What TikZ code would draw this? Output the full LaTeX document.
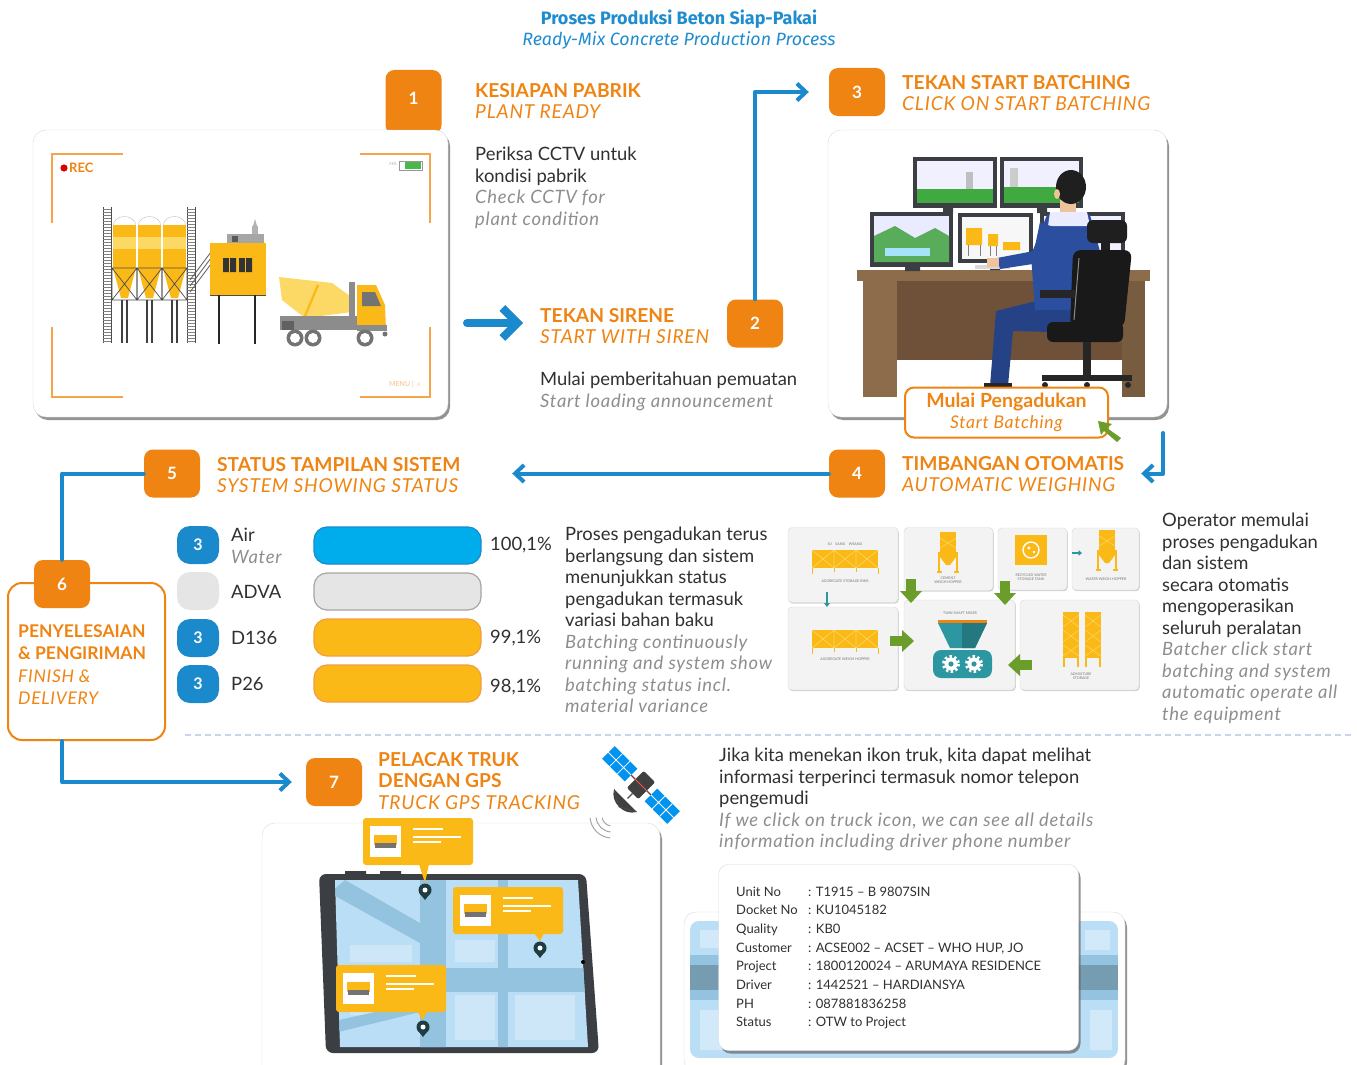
\documentclass[tikz,border=0pt]{standalone}
\usepackage{fontspec}
\setmainfont{Lato}
\newfontfamily\titlefont{Fira Sans}
\usetikzlibrary{arrows.meta,shadows,calc}
\definecolor{ora}{HTML}{EF8412}
\definecolor{orl}{HTML}{F6A54A}
\definecolor{blu}{HTML}{1B8ACD}
\definecolor{ttl}{HTML}{1F8CCF}
\definecolor{txt}{HTML}{303030}
\definecolor{gry}{HTML}{8E8E8E}
\definecolor{yel}{HTML}{FBB917}
\definecolor{yll}{HTML}{FCD864}
\definecolor{sky}{HTML}{00ADEC}
\definecolor{grn}{HTML}{6B9D2B}
\definecolor{tea}{HTML}{2D97A1}
\definecolor{pan}{HTML}{F3F3F3}
\definecolor{desk}{HTML}{6E5138}
\definecolor{deskl}{HTML}{8D6C4B}
\definecolor{shirt}{HTML}{2C4E9E}
\definecolor{skin}{HTML}{EFC39B}
\definecolor{scr}{HTML}{3B3F43}
\definecolor{map}{HTML}{B9DEF5}
\definecolor{road}{HTML}{93C3DF}
\definecolor{pinc}{HTML}{1E3C42}
\definecolor{sepc}{HTML}{C7D6EA}
\newcommand\ist{\itshape\addfontfeatures{LetterSpace=4}}
\newcommand\en[1]{\textcolor{gry}{\ist #1}}

\begin{document}
\begin{tikzpicture}[x=1pt,y=-1pt,
  badge/.style={fill=ora, rounded corners=9pt, minimum width=56pt, minimum height=48pt, inner sep=0pt, text=white, font=\fontsize{17}{17}\selectfont\bfseries},
  sbadge/.style={fill=blu, rounded corners=13pt, minimum width=42pt, minimum height=38pt, inner sep=0pt, text=white, font=\fontsize{16}{16}\selectfont\bfseries},
  card/.style={draw=black!15, fill=white, rounded corners=13pt, drop shadow={shadow xshift=2pt, shadow yshift=-3pt, opacity=.7, fill=black!60}},
  panel/.style={draw=black!15, fill=pan, rounded corners=4pt, drop shadow={shadow xshift=.8pt, shadow yshift=-1.2pt, opacity=.35, fill=black!50}},
  hd/.style={anchor=north west, inner sep=0pt, align=left, text=ora, font=\fontsize{19.2}{21.5}\selectfont},
  body/.style={anchor=north west, inner sep=0pt, align=left, text=txt, font=\fontsize{18.4}{21.5}\selectfont},
  lbl/.style={anchor=west, inner sep=0pt, text=txt, font=\fontsize{18.4}{21.5}\selectfont},
  bar/.style={rounded corners=13pt, line width=1.2pt},
  flow/.style={draw=blu, line width=4pt, line cap=round, line join=round, -{Straight Barb[length=9pt,width=17pt]}},
  tiny/.style={inner sep=0pt, text=black!55, font=\fontsize{3.6}{4.2}\selectfont, align=center},
  info/.style={anchor=base west, inner sep=0pt, text=txt, font=\fontsize{13}{13}\selectfont},
  pics/hopper/.style={code={
    \fill[yel] (-8,-20) rectangle (8,5);
    \fill[yel] (-8,5) -- (8,5) -- (2,13) -- (-2,13) -- cycle;
    \draw[yel, line width=1.2pt] (-9,0) -- (-9,20) (9,0) -- (9,20) (-11,20) -- (-6,20) (11,20) -- (6,20);
    \draw[yll, line width=.5pt] (-8,-14) -- (8,-4) (8,-14) -- (-8,-4);}},
  pics/bins/.style={code={
    \fill[yel] (-33,0) rectangle (33,18);
    \draw[yll, line width=.6pt] (-11,0) -- (-11,18) (11,0) -- (11,18) (-33,0) -- (-11,18) (-11,0) -- (-33,18)
      (-11,0) -- (11,18) (11,0) -- (-11,18) (11,0) -- (33,18) (33,0) -- (11,18);
    \draw[yel, line width=1pt] (-33,18) -- (-33,24) (33,18) -- (33,24) (-11,18) -- (-11,22) (11,18) -- (11,22);}},
  pics/garrow/.style={code={
    \fill[grn] (-12,-5) rectangle (1,5);
    \fill[grn] (0,-11) -- (12,0) -- (0,11) -- cycle;}},
  pics/tarrow/.style={code={
    \draw[tea, line width=1.6pt, -{Triangle[length=3.5pt,width=5.5pt]}] (-5,0) -- (5,0);}},
  pics/callout/.style 2 args={code={
    \fill[yel, rounded corners=3pt] (0,0) rectangle (110,47);
    \fill[yel] (#1-6,46) -- (#1+4,46) -- (#1,#2-7) -- cycle;
    \fill[white] (7,8) rectangle (38,39);
    \fill[yel] (11,17) rectangle (34,27);
    \fill[black!55] (12,25) rectangle (33,30);
    \draw[white, line width=1.5pt] (50,11) -- (80,11) (50,19) -- (98,19) (50,24) -- (78,24);
    \fill[pinc] (#1,#2) circle (6.5);
    \fill[pinc] (#1-5.5,#2+3) -- (#1+5.5,#2+3) -- (#1,#2+10) -- cycle;
    \fill[white] (#1,#2) circle (2.5);}},
]
\useasboundingbox (0,0) rectangle (1357,1065);
\fill[white] (0,0) rectangle (1357,1065);

% ---------- title ----------
\node[text=ttl, font=\titlefont\bfseries\fontsize{18}{18}\selectfont] (title) at (679,19) {Proses Produksi Beton Siap-Pakai};
\node[text=ttl, font=\titlefont\itshape\fontsize{17.8}{18}\selectfont] (subtitle) at (679,40) {Ready-Mix Concrete Production Process};

% ---------- step 1 : plant camera view ----------
\node[badge, minimum height=64pt] (b1) at (413.5,102) {};
\node[text=white, font=\fontsize{17}{17}\selectfont\bfseries, inner sep=0pt] (n1) at (413.5,98) {1};
\node[card, minimum width=415pt, minimum height=287pt] (c1) at (240.5,273.5) {};
\draw[orl, line width=2pt] (52,223) -- (52,154) -- (123,154) (360,154) -- (430,154) -- (430,223)
  (52,327) -- (52,397) -- (123,397) (360,397) -- (430,397) -- (430,327);
\fill[red!85!black] (64,168) circle (3.6);
\node[anchor=west, inner sep=0pt, text=ora, font=\bfseries\fontsize{13}{13}\selectfont] (rec) at (69,168) {REC};
\draw[black!40, line width=.5pt] (399,161) rectangle (422,170);
\fill[green!60!black!70] (405,162) rectangle (421,169);
\node[anchor=east, inner sep=0pt, text=black!35, font=\fontsize{4}{4}\selectfont] (pct) at (397,164) {74\%};
\node[anchor=east, inner sep=0pt, text=orl!70, font=\fontsize{7}{7}\selectfont] (menu) at (422,384) {MENU | $\times$};
% silos with ladders
\foreach \lx in {103,187} {
  \draw[black!70, line width=.8pt] (\lx,207) -- (\lx,343) (\lx+8,207) -- (\lx+8,343);
  \foreach \ry in {209,212,...,342} \draw[black!50, line width=.6pt] (\lx,\ry) -- (\lx+8,\ry);
}
\foreach \sx in {112,137,162} {
  \draw[fill=white, draw=black!25] (\sx+1,227) .. controls (\sx+1,213) and (\sx+24,213) .. (\sx+24,227) -- cycle;
  \fill[yel] (\sx+1,225) rectangle (\sx+24,268);
  \fill[yll] (\sx+1,237) rectangle (\sx+24,249);
  \fill[yel] (\sx+1,268) -- (\sx+24,268) -- (\sx+16,298) -- (\sx+9,298) -- cycle;
  \draw[black!70, line width=.7pt] (\sx,268) rectangle (\sx+25,300) (\sx,268) -- (\sx+25,300) (\sx+25,268) -- (\sx,300);
  \draw[black!75, line width=1.3pt] (\sx+10,300) -- (\sx+10,343) (\sx+15,300) -- (\sx+15,343);
}
\draw[black!65, line width=.8pt] (190,280) -- (211,252) (190,286) -- (211,258) (190,292) -- (211,264);
\fill[black!35] (227,234) rectangle (264,243);
\fill[black!65] (232,236) rectangle (238,242);
\fill[black!30] (252,226) rectangle (258,234);
\fill[black!30] (253,226) -- (255,219) -- (257,226) -- cycle;
\fill[yel] (210,243) rectangle (266,295);
\draw[black!70, line width=1pt] (210,295) -- (266,295);
\fill[black!80] (223,258) rectangle (236,272) (239,258) rectangle (252,272);
\draw[yel, line width=.8pt] (229.5,258) -- (229.5,272) (245.5,258) -- (245.5,272);
\draw[black!85, line width=2pt] (219,295) -- (219,344) (255,295) -- (255,344);
% mixer truck
\fill[yll] (279,277) -- (332,283) -- (350,296) -- (352,312) -- (305,318) -- (282,300) -- cycle;
\draw[yel, line width=2.2pt] (318,285) -- (305,316);
\fill[black!45] (349,282) rectangle (355,318);
\fill[black!45] (280,316) rectangle (372,330);
\fill[black!62] (282,321) rectangle (294,330);
\fill[yel] (357,285) -- (376,285) -- (385,305) -- (386,330) -- (357,330) -- cycle;
\fill[black!55] (362,292) -- (375,292) -- (381,306) -- (362,306) -- cycle;
\fill[black!45] (357,325) rectangle (387,331);
\foreach \wx in {295,313,365} {\fill[black!55] (\wx,338) circle (8.5); \fill[white] (\wx,338) circle (5);}
\fill[black!55] (385,334) circle (2.5);

% ---------- step 1 texts ----------
\node[hd] (h1) at (475,83) {\bfseries KESIAPAN PABRIK\\\ist PLANT READY};
\node[body] (t1) at (475,147) {Periksa CCTV untuk\\kondisi pabrik\\\en{Check CCTV for}\\\en{plant condition}};

% ---------- step 2 ----------
\coordinate (a1s) at (467,323);
\coordinate (a1e) at (523,323);
\draw[draw=blu, line width=8pt, line cap=round, line join=round, -{Straight Barb[length=15pt,width=30pt]}] (a1s) -- (a1e);
\node[hd] (h2) at (540,308) {\bfseries TEKAN SIRENE\\\ist START WITH SIREN};
\node[badge] (b2) at (755,323.5) {2};
\node[body] (t2) at (540,372) {Mulai pemberitahuan pemuatan\\\en{Start loading announcement}};

% ---------- step 3 ----------
\node[badge] (b3) at (857,92) {3};
\node[hd] (h3) at (902,75) {\bfseries TEKAN START BATCHING\\\ist CLICK ON START BATCHING};
\draw[flow, shorten >=20pt] (b2.north) |- (b3.west);
\node[card, minimum width=339pt, minimum height=287pt] (c3) at (997.5,273.5) {};
% desk
\fill[deskl] (857,270) rectangle (1150,281);
\fill[desk] (863,281) rectangle (1145,360);
\fill[deskl] (863,281) rectangle (897,397);
\fill[deskl!85!black] (1122,281) rectangle (1145,397);
% monitors
\fill[scr] (913,157) rectangle (997,208);
\fill[blue!6] (917,161) rectangle (993,203);
\fill[green!55!black!75] (917,189) rectangle (993,203);
\fill[black!25] (966,172) rectangle (973,189);
\fill[scr] (1000,157) rectangle (1083,208);
\fill[blue!6] (1004,161) rectangle (1079,203);
\fill[green!55!black!75] (1004,187) rectangle (1079,203);
\fill[black!20] (1010,168) rectangle (1018,187);
\fill[scr] (943,208) rectangle (953,213) (1037,208) rectangle (1047,213);
\fill[scr] (870,212) rectangle (953,267);
\fill[blue!8] (874,216) rectangle (949,262);
\fill[green!50!black!65] (874,236) -- (895,226) -- (915,238) -- (935,228) -- (949,236) -- (949,262) -- (874,262) -- cycle;
\fill[cyan!35] (885,248) rectangle (930,256);
\fill[scr] (958,213) rectangle (1033,263);
\fill[black!3] (962,217) rectangle (1029,259);
\fill[yel] (966,228) rectangle (982,245) (988,234) rectangle (998,246) (1003,242) rectangle (1020,250);
\draw[black!50, line width=.6pt] (968,245) -- (968,256) (980,245) -- (980,256) (990,246) -- (990,256) (996,246) -- (996,256);
\fill[scr] (1040,212) rectangle (1125,267);
\fill[blue!6] (1044,216) rectangle (1121,262);
\fill[scr] (905,267) rectangle (920,271) (990,263) rectangle (1000,270);
\fill[black!15] (975,265) rectangle (1010,269);
% operator
\fill[shirt!85!black] (1088,300) -- (1040,300) -- (996,311) -- (990,386) -- (1008,386) -- (1013,331) -- (1088,333) -- cycle;
\fill[black!85] (984,383) rectangle (1012,392);
\fill[shirt] (1047,215) -- (1090,215) -- (1101,255) -- (1097,310) -- (1035,310) -- (1031,255) -- cycle;
\fill[skin] (1060,200) rectangle (1076,216);
\fill[blue!8] (1050,212) -- (1087,212) -- (1090,226) -- (1048,226) -- cycle;
\fill[black!88] (1071,187) ellipse (15 and 17);
\fill[skin] (1057,194) ellipse (3 and 5);
\fill[shirt] (1040,222) -- (1056,228) -- (1046,262) -- (1000,269) -- (997,258) -- (1034,251) -- cycle;
\fill[skin] (987,258) rectangle (999,267);
% chair
\fill[black!88, rounded corners=6pt] (1087,220) rectangle (1127,243);
\fill[black!88] (1101,243) rectangle (1110,252);
\fill[black!90, rounded corners=8pt] (1073,250) -- (1132,250) -- (1124,328) -- (1070,328) -- cycle;
\draw[black!45, line width=1pt] (1079,258) -- (1074,320);
\fill[black!85] (1040,290) rectangle (1075,298);
\fill[black!90, rounded corners=6pt] (1047,322) rectangle (1123,342);
\fill[black!85] (1083,342) rectangle (1091,376);
\fill[black!85] (1042,375) rectangle (1132,381);
\foreach \cx in {1045,1087,1128} \fill[black!85] (\cx,385) circle (3);
% start batching button
\node[draw=ora, line width=2pt, fill=white, rounded corners=9pt, minimum width=203pt, minimum height=50pt, inner sep=0pt, align=center, text=ora, font=\fontsize{17.5}{21}\selectfont] (cta) at (1006.5,412.5) {{\bfseries\fontsize{19.5}{21}\selectfont Mulai Pengadukan}\\{\ist Start Batching}};
\fill[grn] (1098,421) -- (1112,424) -- (1107,428) -- (1121,438) -- (1117,442) -- (1104,431) -- (1101,435) -- cycle;

% ---------- step 4 ----------
\node[badge] (b4) at (857,473.5) {4};
\node[hd] (h4) at (902,456) {\bfseries TIMBANGAN OTOMATIS\\\ist AUTOMATIC WEIGHING};
\coordinate (c3o) at (1163,433);
\draw[flow, shorten >=256pt] (c3o) |- (b4.east);
% batching plant flow panels
\node[panel, minimum width=110pt, minimum height=75pt] (p1) at (843,565) {};
\node[panel, minimum width=89pt, minimum height=63pt] (p2) at (948.5,559) {};
\node[panel, minimum width=69pt, minimum height=62pt] (p3) at (1032.5,559) {};
\node[panel, minimum width=67pt, minimum height=62pt] (p4) at (1105.5,559) {};
\node[panel, minimum width=110pt, minimum height=83pt] (p5) at (843,648.5) {};
\node[panel, minimum width=111pt, minimum height=90pt] (p6) at (959.5,645) {};
\node[panel, minimum width=119pt, minimum height=90pt] (p7) at (1079.5,645) {};
\pic at (845,550) {bins};
\node[tiny] (l1a) at (845,544) {10\quad SAND\quad WSAND};
\node[tiny] (l1) at (845,581) {AGGREGATE STORAGE BINS};
\pic at (948,552) {hopper};
\node[tiny] (l2) at (948,580) {CEMENT\\WEIGH HOPPER};
\fill[yel] (1015,535) rectangle (1047,565);
\draw[white, line width=1.4pt] (1031,550) circle (8);
\fill[white] (1029,548) circle (1.6) (1034,552) circle (1.3);
\node[tiny] (l3) at (1031,577) {RECYCLED WATER\\STORAGE TANK};
\pic at (1077,553) {tarrow};
\pic at (1107,550) {hopper};
\node[tiny] (l4) at (1106,579) {WATER WEIGH HOPPER};
\coordinate (ta) at (827,592);
\coordinate (tb) at (827,607);
\draw[tea, line width=1.8pt, -{Triangle[length=4pt,width=6pt]}] (ta) -- (tb);
\pic at (845,630) {bins};
\node[tiny] (l5) at (845,659) {AGGREGATE WEIGH HOPPER};
\node[tiny] (l6) at (960,613) {TWIN SHAFT MIXER};
\fill[ora] (938,620) rectangle (987,623);
\fill[tea] (938,623) -- (987,623) -- (975,648) -- (950,648) -- cycle;
\fill[tea!80!black] (962,623) -- (987,623) -- (975,648) -- (962,648) -- cycle;
\fill[tea, rounded corners=8pt] (933,650) rectangle (992,678);
\foreach \gx in {951,974} {
  \draw[white, line width=3pt, dash pattern=on 2.4pt off 2.4pt] (\gx,664) circle (7.5);
  \fill[white] (\gx,664) circle (6.5);
  \fill[tea] (\gx,664) circle (2.6);
}
\foreach \tx in {1063,1085} {
  \fill[yel] (\tx,612) rectangle (\tx+16,658);
  \draw[yll, line width=.5pt] (\tx,615) -- (\tx+16,627) (\tx+16,615) -- (\tx,627) (\tx,630) -- (\tx+16,642) (\tx+16,630) -- (\tx,642) (\tx,645) -- (\tx+16,656) (\tx+16,645) -- (\tx,656);
  \draw[yel, line width=1.2pt] (\tx+1,658) -- (\tx+1,667) (\tx+15,658) -- (\tx+15,667);
}
\node[tiny] (l7) at (1081,676) {ADMIXTURE\\STORAGE};
\pic at (911,591) [rotate=-90] {garrow};
\pic at (1005,593) [rotate=-90] {garrow};
\pic at (902,641) {garrow};
\pic at (1020,665) [rotate=180] {garrow};
\node[body] (t4) at (1162,513) {Operator memulai\\proses pengadukan\\dan sistem\\secara otomatis\\mengoperasikan\\seluruh peralatan\\\en{Batcher click start}\\\en{batching and system}\\\en{automatic operate all}\\\en{the equipment}};

% ---------- step 5 ----------
\node[badge] (b5) at (172,473.5) {5};
\node[hd] (h5) at (217,457) {\bfseries STATUS TAMPILAN SISTEM\\\ist SYSTEM SHOWING STATUS};
\draw[flow, shorten >=312pt] (b4.west) -- (b5.east);
\node[sbadge] (s1) at (198,545) {3};
\node[sbadge, fill=black!10] (s2) at (198,591) {};
\node[sbadge] (s3) at (198,638) {3};
\node[sbadge] (s4) at (198,684) {3};
\node[body] (m1) at (231,528) {Air\\\en{Water}};
\node[lbl] (m2) at (231,592) {ADVA};
\node[lbl] (m3) at (231,638) {D136};
\node[lbl] (m4) at (231,684) {P26};
\draw[bar, fill=sky, draw=blu] (314,527) rectangle (481,564);
\draw[bar, fill=black!10, draw=black!35] (314,573) rectangle (481,610);
\draw[bar, fill=yel, draw=ora!80] (314,619) rectangle (481,656);
\draw[bar, fill=yel, draw=ora!80] (314,665) rectangle (481,702);
\node[lbl] (v1) at (490,545) {100,1\%};
\node[lbl] (v3) at (490,638) {99,1\%};
\node[lbl] (v4) at (490,687) {98,1\%};
\node[body] (t5) at (565,527) {Proses pengadukan terus\\berlangsung dan sistem\\menunjukkan status\\pengadukan termasuk\\variasi bahan baku\\\en{Batching continuously}\\\en{running and system show}\\\en{batching status incl.}\\\en{material variance}};

% ---------- step 6 ----------
\node[draw=ora, line width=2pt, fill=white, rounded corners=14pt, minimum width=157pt, minimum height=157pt] (box6) at (86.5,661.5) {};
\node[badge] (b6) at (62,584) {6};
\draw[flow, -] (b5.west) -| (b6.north);
\node[hd, font=\fontsize{17.5}{22.5}\selectfont] (h6) at (18,624) {\bfseries PENYELESAIAN\\\bfseries\& PENGIRIMAN\\\ist FINISH \&\\\ist DELIVERY};

\draw[sepc, line width=1.6pt, dash pattern=on 6pt off 4pt] (185,735) -- (1352,735);

% ---------- step 7 ----------
\node[badge] (b7) at (334,782) {7};
\draw[flow, shorten >=14pt] (b6 |- box6.south) |- (b7.west);
\node[hd] (h7) at (378,752) {\bfseries PELACAK TRUK\\\bfseries DENGAN GPS\\\ist TRUCK GPS TRACKING};
\node[card, minimum width=398pt, minimum height=262pt] (c7) at (461,954) {};
% tablet with map
\fill[scr] (345,871) rectangle (366,876) (380,871) rectangle (401,876);
\fill[scr, rounded corners=7pt] (319,874) -- (586,874) -- (599,1053) -- (326,1053) -- cycle;
\begin{scope}
  \clip (335,880) -- (578,880) -- (588,1047) -- (340,1047) -- cycle;
  \fill[map] (330,875) rectangle (600,1050);
  \fill[white, opacity=.3] (350,945) rectangle (412,962) (455,995) rectangle (495,1040) (515,995) rectangle (575,1040) (350,1000) rectangle (410,1015) (455,940) rectangle (495,962);
  \fill[road] (420,875) rectangle (446,1050);
  \fill[road] (330,968) rectangle (600,992);
  \fill[road] (330,893) -- (345,880) -- (432,930) -- (420,943) -- cycle;
  \fill[road] (498,875) rectangle (508,1050);
  \fill[road] (330,1022) -- (420,1002) -- (420,1012) -- (330,1034) -- cycle;
\end{scope}
\fill[black] (583,962) circle (2);
\pic at (363,818) {callout={62}{72}};
\pic at (453,887) {callout={87}{61}};
\pic at (336,965) {callout={87}{62}};
% satellite
\begin{scope}[shift={(641,785)}, rotate=-45]
  \draw[black!70, line width=1.2pt] (-14,0) -- (14,0);
  \foreach \px in {-46,14} {
    \fill[sky!85!blue] (\px,-9) rectangle (\px+32,9);
    \draw[white, line width=.8pt] (\px+10.7,-9) -- (\px+10.7,9) (\px+21.3,-9) -- (\px+21.3,9) (\px,0) -- (\px+32,0);
  }
  \fill[black!75, rounded corners=2pt] (-8,-12) rectangle (8,12);
  \draw[red!70, line width=.8pt] (-8,0) -- (8,0);
  \draw[black!70, line width=1.2pt] (0,12) -- (0,19);
  \fill[black!75] (-16,22) .. controls (-10,34) and (10,34) .. (16,22) -- cycle;
  \draw[black!70, line width=.8pt] (-16,22) -- (0,31) -- (16,22);
\end{scope}
\draw[black!35, line width=1pt] (612,816) ++(100:10) arc[start angle=100, end angle=170, radius=10];
\draw[black!35, line width=1pt] (612,816) ++(95:16) arc[start angle=95, end angle=175, radius=16];
\draw[black!35, line width=1pt] (612,816) ++(95:22) arc[start angle=95, end angle=175, radius=22];
\node[body] (t7) at (719,748) {Jika kita menekan ikon truk, kita dapat melihat\\informasi terperinci termasuk nomor telepon\\pengemudi\\\en{If we click on truck icon, we can see all details}\\\en{information including driver phone number}};
% truck detail card over a map
\node[card, minimum width=441pt, minimum height=160pt, rounded corners=12pt] (mapc) at (904.5,992) {};
\begin{scope}
  \clip[rounded corners=9pt] (690,921) rectangle (1118,1058);
  \fill[map] (690,921) rectangle (1118,1058);
  \fill[road] (690,955) rectangle (1118,1000);
  \fill[road!80!black] (690,965) rectangle (1118,990);
  \fill[white, opacity=.35] (700,930) rectangle (760,948) (1085,930) rectangle (1110,950) (700,1010) rectangle (760,1050) (1090,1010) rectangle (1112,1050);
\end{scope}
\node[card, minimum width=360pt, minimum height=186pt, rounded corners=10pt] (infoc) at (898.5,957.5) {};
\foreach \lab/\val [count=\i from 0] in {Unit No/{T1915 – B 9807SIN}, Docket No/KU1045182, Quality/KB0, Customer/{ACSE002 – ACSET – WHO HUP, JO}, Project/{1800120024 – ARUMAYA RESIDENCE}, Driver/{1442521 – HARDIANSYA}, PH/087881836258, Status/{OTW to Project}} {
  \node[info] (il\i) at (736,896+18.7*\i) {\lab};
  \node[info] (iv\i) at (808,896+18.7*\i) {: \val};
}
\end{tikzpicture}
\end{document}
